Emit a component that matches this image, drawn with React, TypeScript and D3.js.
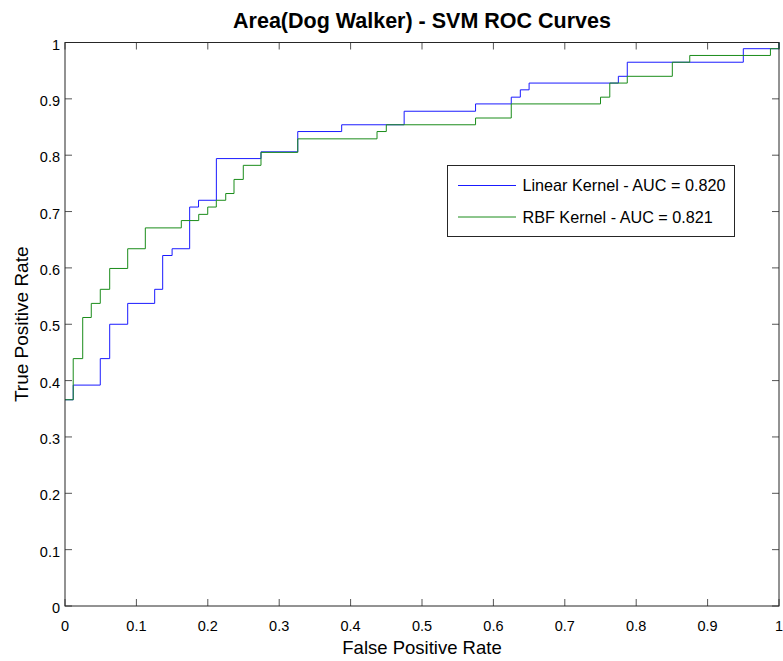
import React from "react";
import * as d3 from "d3";

const title = "Area(Dog Walker) - SVM ROC Curves";
const xLabel = "False Positive Rate";
const yLabel = "True Positive Rate";
const tickValues = [0, 0.1, 0.2, 0.3, 0.4, 0.5, 0.6, 0.7, 0.8, 0.9, 1];
const tickLabels = ["0", "0.1", "0.2", "0.3", "0.4", "0.5", "0.6", "0.7", "0.8", "0.9", "1"];

const seriesNames = ["Linear Kernel - AUC = 0.820", "RBF Kernel - AUC = 0.821"];
const seriesColors = ["#1a1aff", "#1a8c1a"];

// step points: (fpr where the jump happens, tpr after the jump)
const linearFpr = [0, 0.0115, 0.0494, 0.0626, 0.0878, 0.1256, 0.1368, 0.15, 0.1746, 0.187, 0.212, 0.2745, 0.326, 0.3875, 0.475, 0.575, 0.625, 0.6377, 0.65, 0.775, 0.7875, 0.95, 1, 1];
const linearTpr = [0.366, 0.392, 0.439, 0.5, 0.537, 0.562, 0.622, 0.634, 0.708, 0.72, 0.794, 0.806, 0.842, 0.854, 0.878, 0.891, 0.903, 0.916, 0.928, 0.94, 0.965, 0.989, 0.989, 1];

const rbfFpr = [0, 0.0115, 0.0248, 0.0368, 0.0494, 0.0626, 0.0878, 0.1125, 0.1629, 0.1873, 0.1999, 0.2119, 0.2251, 0.2367, 0.2497, 0.2745, 0.326, 0.437, 0.45, 0.575, 0.625, 0.75, 0.763, 0.7875, 0.8506, 0.875, 0.988, 1, 1];
const rbfTpr = [0.366, 0.439, 0.512, 0.537, 0.562, 0.599, 0.634, 0.671, 0.684, 0.695, 0.708, 0.72, 0.732, 0.757, 0.782, 0.805, 0.829, 0.842, 0.854, 0.866, 0.891, 0.903, 0.928, 0.94, 0.965, 0.977, 0.989, 0.989, 1];

const W = 783;
const H = 661;
const left = 65;
const right = 779;
const top = 42.5;
const bottom = 606;
const FONT = "'Liberation Sans', Arial, Helvetica, sans-serif";

export default function App() {
  const x = d3.scaleLinear().domain([0, 1]).range([left, right]);
  const y = d3.scaleLinear().domain([0, 1]).range([bottom, top]);
  const line = d3
    .line<[number, number]>()
    .x((d) => x(d[0]))
    .y((d) => y(d[1]))
    .curve(d3.curveStepAfter);

  const series = [
    { pts: linearFpr.map((f, i) => [f, linearTpr[i]] as [number, number]), color: seriesColors[0] },
    { pts: rbfFpr.map((f, i) => [f, rbfTpr[i]] as [number, number]), color: seriesColors[1] },
  ];

  const tickLen = 7;
  const axisColor = "#262626";
  const tickColor = "#555";

  const legX = 447.5;
  const legY = 165.5;
  const legW = 287;
  const legH = 71;

  return (
    <svg
      width={W}
      height={H}
      style={{ position: "absolute", left: 0, top: 0, background: "#fff" }}
      fontFamily={FONT}
    >
      <rect x={0} y={0} width={W} height={H} fill="#fff" />
      {/* ticks */}
      {tickValues.map((t, i) => (
        <g key={"t" + i} stroke={tickColor} strokeWidth={1}>
          <line x1={x(t)} x2={x(t)} y1={bottom} y2={bottom - tickLen} />
          <line x1={x(t)} x2={x(t)} y1={top} y2={top + tickLen} />
          <line x1={left} x2={left + tickLen} y1={y(t)} y2={y(t)} />
          <line x1={right} x2={right - tickLen} y1={y(t)} y2={y(t)} />
        </g>
      ))}
      {/* curves */}
      {series.map((s, i) => (
        <path key={"s" + i} d={line(s.pts) || ""} fill="none" stroke={s.color} strokeWidth={1} />
      ))}
      {/* axes box */}
      <rect x={left} y={top} width={right - left} height={bottom - top} fill="none" stroke={axisColor} strokeWidth={1} />
      {/* tick labels */}
      {tickValues.map((t, i) => (
        <text key={"xl" + i} x={x(t)} y={bottom + 25} textAnchor="middle" fontSize={14.5} fill="#000">
          {tickLabels[i]}
        </text>
      ))}
      {tickValues.map((t, i) => (
        <text key={"yl" + i} x={left - 5} y={y(t) + 7} textAnchor="end" fontSize={14.5} fill="#000">
          {tickLabels[i]}
        </text>
      ))}
      {/* labels */}
      <text x={(left + right) / 2} y={28} textAnchor="middle" fontSize={21.5} fontWeight="bold" fill="#000">
        {title}
      </text>
      <text x={(left + right) / 2} y={654} textAnchor="middle" fontSize={18.5} fill="#000">
        {xLabel}
      </text>
      <text
        transform={`translate(28, ${(top + bottom) / 2}) rotate(-90)`}
        textAnchor="middle"
        fontSize={19}
        fill="#000"
      >
        {yLabel}
      </text>
      {/* legend */}
      <rect x={legX} y={legY} width={legW} height={legH} fill="#fff" stroke={axisColor} strokeWidth={1} />
      {seriesNames.map((n, i) => (
        <g key={"lg" + i}>
          <line x1={458} x2={516} y1={185.5 + i * 31.5} y2={185.5 + i * 31.5} stroke={seriesColors[i]} strokeWidth={1} />
          <text x={522.5} y={191 + i * 31.5} fontSize={16.2} fill="#000">
            {n}
          </text>
        </g>
      ))}
    </svg>
  );
}
